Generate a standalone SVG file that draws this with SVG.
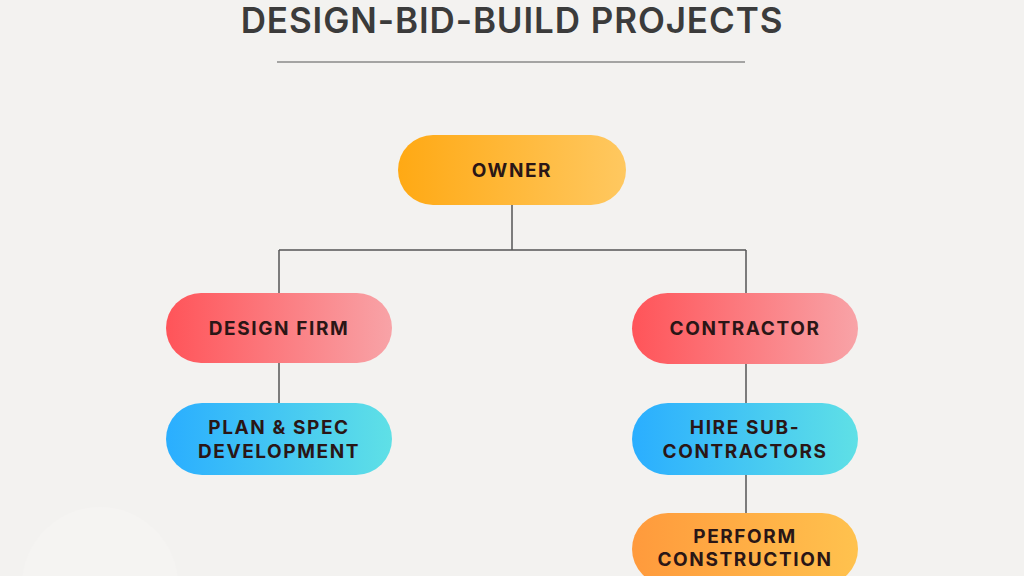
<svg xmlns="http://www.w3.org/2000/svg" width="1024" height="576" viewBox="0 0 1024 576">
<defs>
<linearGradient id="gOrange" x1="0" y1="0" x2="1" y2="0"><stop offset="0" stop-color="#FFA914"/><stop offset="1" stop-color="#FFC860"/></linearGradient>
<linearGradient id="gRed" x1="0" y1="0" x2="1" y2="0"><stop offset="0" stop-color="#FF5459"/><stop offset="1" stop-color="#F8A3A7"/></linearGradient>
<linearGradient id="gBlue" x1="0" y1="0" x2="1" y2="0"><stop offset="0" stop-color="#2AAEFF"/><stop offset="1" stop-color="#5FE0E6"/></linearGradient>
<linearGradient id="gOrange2" x1="0" y1="0" x2="1" y2="0"><stop offset="0" stop-color="#FF9A3C"/><stop offset="1" stop-color="#FFC24E"/></linearGradient>
<style>
.lbl{font-family:Inter,"Noto Sans","DejaVu Sans",sans-serif;font-weight:700;font-size:19px;letter-spacing:1.6px;fill:#2a1616;text-anchor:middle;dominant-baseline:central}
.conn{stroke:#555;stroke-width:1.5;fill:none}
</style>
</defs>
<rect width="1024" height="576" fill="#F3F2F0"/>
<circle cx="100" cy="585" r="78" fill="#F5F4F2"/>
<text x="512" y="33" font-family="Inter,'Noto Sans',sans-serif" font-weight="600" font-size="35" fill="#3b3b3b" text-anchor="middle" letter-spacing="0.9">DESIGN-BID-BUILD PROJECTS</text>
<line x1="277" y1="62" x2="745" y2="62" stroke="#8a8a8a" stroke-width="1.5"/>
<g id="connectors">
<path class="conn" d="M512 205 V250 M279 250 H746 M279 250 V293 M746 250 V293"/>
<path class="conn" d="M279 363 V403"/>
<path class="conn" d="M746 364 V403 M746 475 V513"/>
</g>
<g id="owner"><rect x="398" y="135" width="228" height="70" rx="35" fill="url(#gOrange)"/><text class="lbl" x="512" y="170">OWNER</text></g>
<g id="design-firm"><rect x="166" y="293" width="226" height="70" rx="35" fill="url(#gRed)"/><text class="lbl" x="279" y="328">DESIGN FIRM</text></g>
<g id="plan-spec"><rect x="166" y="403" width="226" height="72" rx="36" fill="url(#gBlue)"/><text class="lbl" x="279" y="427">PLAN &amp; SPEC</text><text class="lbl" x="279" y="451">DEVELOPMENT</text></g>
<g id="contractor"><rect x="632" y="293" width="226" height="71" rx="35.5" fill="url(#gRed)"/><text class="lbl" x="745" y="328">CONTRACTOR</text></g>
<g id="hire-sub"><rect x="632" y="403" width="226" height="72" rx="36" fill="url(#gBlue)"/><text class="lbl" x="745" y="427">HIRE SUB-</text><text class="lbl" x="745" y="451">CONTRACTORS</text></g>
<g id="perform"><rect x="632" y="513" width="226" height="72" rx="36" fill="url(#gOrange2)"/><text class="lbl" x="745" y="536">PERFORM</text><text class="lbl" x="745" y="559">CONSTRUCTION</text></g>
</svg>
